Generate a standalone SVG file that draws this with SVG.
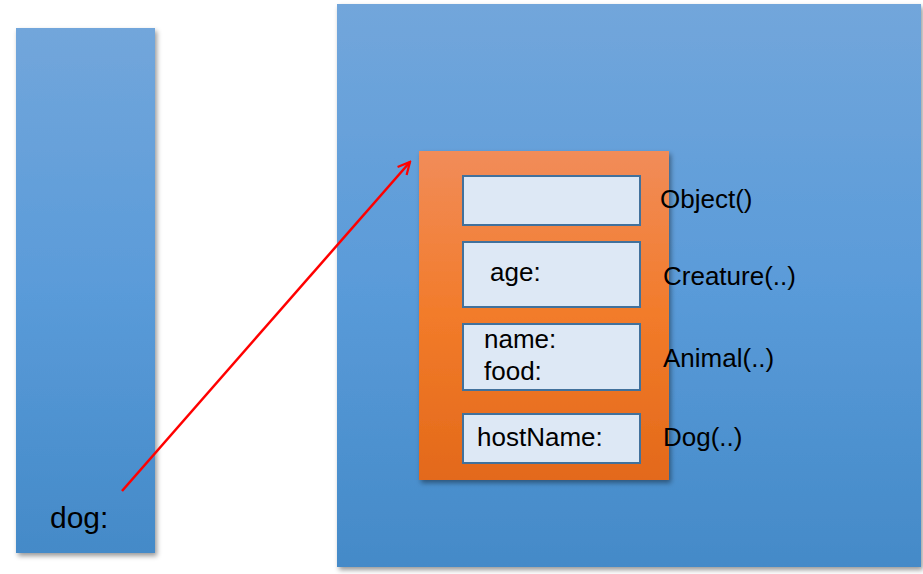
<svg xmlns="http://www.w3.org/2000/svg" width="923" height="574" viewBox="0 0 923 574">
<defs>
<linearGradient id="blue" x1="0" y1="0" x2="0" y2="1">
<stop offset="0" stop-color="#72a6db"/>
<stop offset="0.5" stop-color="#5a9bd9"/>
<stop offset="1" stop-color="#448ac8"/>
</linearGradient>
<linearGradient id="orange" x1="0" y1="0" x2="0" y2="1">
<stop offset="0" stop-color="#f18c59"/>
<stop offset="0.5" stop-color="#f27b2a"/>
<stop offset="1" stop-color="#e3691a"/>
</linearGradient>
<filter id="sh" x="-5%" y="-5%" width="112%" height="112%">
<feDropShadow dx="2" dy="3" stdDeviation="2.5" flood-color="#000" flood-opacity="0.4"/>
</filter>
<marker id="arr" viewBox="0 0 10 10" refX="9" refY="5" markerWidth="6" markerHeight="6" orient="auto" markerUnits="strokeWidth">
<path d="M1,1 L9,5 L1,9" fill="none" stroke="#ff0000" stroke-width="1.5"/>
</marker>
</defs>
<style>
.box{fill:#dde8f5;stroke:#41719c;stroke-width:2}
.t{font-family:"Liberation Sans",Arial,sans-serif;font-size:26px;fill:#000}
</style>
<rect width="923" height="574" fill="#fff"/>
<g id="stack">
<rect x="16" y="28" width="139" height="525" fill="url(#blue)" filter="url(#sh)"/>
<text class="t" x="50" y="528" style="font-size:30px">dog:</text>
</g>
<g id="heap">
<rect x="337" y="4" width="584" height="563" fill="url(#blue)" filter="url(#sh)"/>
</g>
<g id="object">
<rect x="419" y="151" width="250" height="329" fill="url(#orange)" filter="url(#sh)"/>
</g>
<g id="objectPart">
<rect class="box" x="463" y="176" width="177" height="49"/>
<text class="t" x="660" y="208">Object()</text>
</g>
<g id="creaturePart">
<rect class="box" x="463" y="242" width="177" height="65"/>
<text class="t" x="490" y="281">age:</text>
<text class="t" x="663" y="285">Creature(..)</text>
</g>
<g id="animalPart">
<rect class="box" x="463" y="324" width="177" height="66"/>
<text class="t" x="484" y="348">name:</text>
<text class="t" x="484" y="380">food:</text>
<text class="t" x="663" y="367">Animal(..)</text>
</g>
<g id="dogPart">
<rect class="box" x="463" y="414" width="177" height="49"/>
<text class="t" x="477" y="446">hostName:</text>
<text class="t" x="663" y="446">Dog(..)</text>
</g>
<g id="connectors">
<line x1="122" y1="491" x2="410" y2="162" stroke="#ff0000" stroke-width="2.5" marker-end="url(#arr)"/>
</g>
</svg>
